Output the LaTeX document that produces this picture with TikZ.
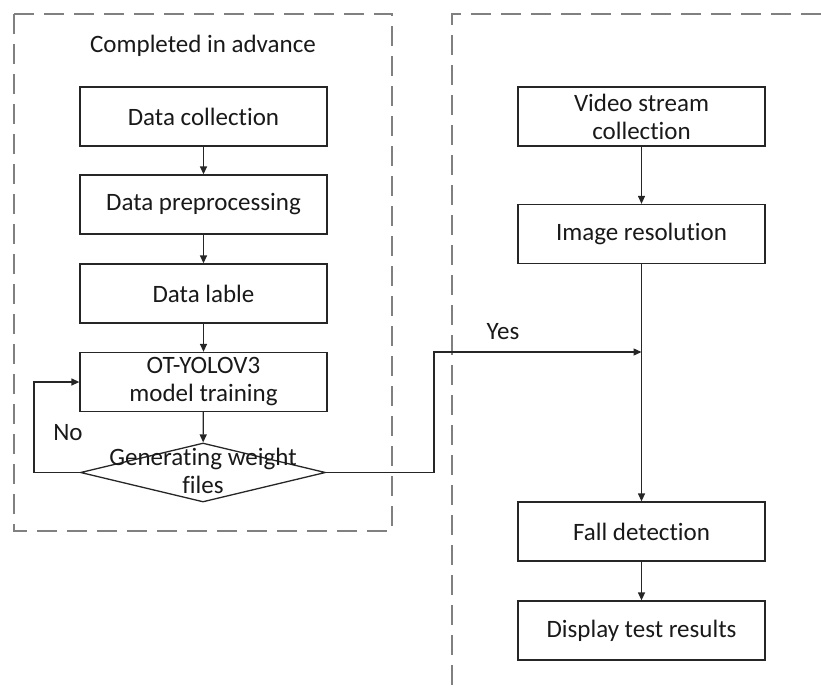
\documentclass[tikz,border=0pt]{standalone}
\usepackage{fontspec}
\setmainfont{Carlito}[Ligatures={NoCommon}]
\usetikzlibrary{arrows.meta,shapes.geometric}
\begin{document}
\begin{tikzpicture}[x=1pt,y=-1pt,
  every node/.style={font=\fontsize{25}{28}\selectfont, text=black!90},
  stepbox/.style={draw=black!85, line width=1.3pt, minimum width=247pt, minimum height=59pt, inner sep=0pt, align=center},
  arr/.style={draw=black!85, line width=1.3pt, -{Triangle[length=8pt,width=7pt]}},
  region/.style={draw=black!50, line width=1.5pt, dash pattern=on 20pt off 10pt}]
\useasboundingbox (0,0) rectangle (821,686);
% regions
\draw[region] (14,14) rectangle (392,531);
\draw[region] (821,14) -- (452,14) -- (452,686);
\node (title) at (203,46) {Completed in advance};
% left column
\node[stepbox] (dc) at (203.5,116.5) {Data collection};
\node[stepbox] (dp) at (203.5,204.5) {Data preprocessing};
\node[stepbox] (dl) at (203.5,293.5) {Data lable};
\node[stepbox] (ot) at (203.5,382) {OT-YOLOV3\\model training};
\node[draw=black!85, line width=1.3pt, diamond, minimum width=245pt, minimum height=59pt, inner sep=0pt] (dec) at (203,472.5) {};
\node[align=center] (dectext) at (203,471) {Generating weight\\files};
% right column
\node[stepbox] (vs) at (641.5,116.5) {Video stream\\collection};
\node[stepbox] (ir) at (641.5,234) {Image resolution};
\node[stepbox] (fd) at (641.5,531.5) {Fall detection};
\node[stepbox] (dr) at (641.5,630.5) {Display test results};
% connectors
\draw[arr] (dc) -- (dp);
\draw[arr] (dp) -- (dl);
\draw[arr] (dl) -- (ot);
\draw[arr] (ot) -- (dec);
\draw[arr] (vs) -- (ir);
\draw[arr] (ir) -- (fd);
\draw[arr] (fd) -- (dr);
\coordinate (nocorner) at (34,472.5);
\draw[arr] (dec.west) -- (nocorner) |- (ot.west);
\node (no) at (68,433) {No};
\coordinate (yescorner) at (434,472.5);
\coordinate (yesend) at (641.5,352);
\draw[arr] (dec.east) -- (yescorner) |- (yesend);
\node (yes) at (503,332) {Yes};
\end{tikzpicture}
\end{document}
